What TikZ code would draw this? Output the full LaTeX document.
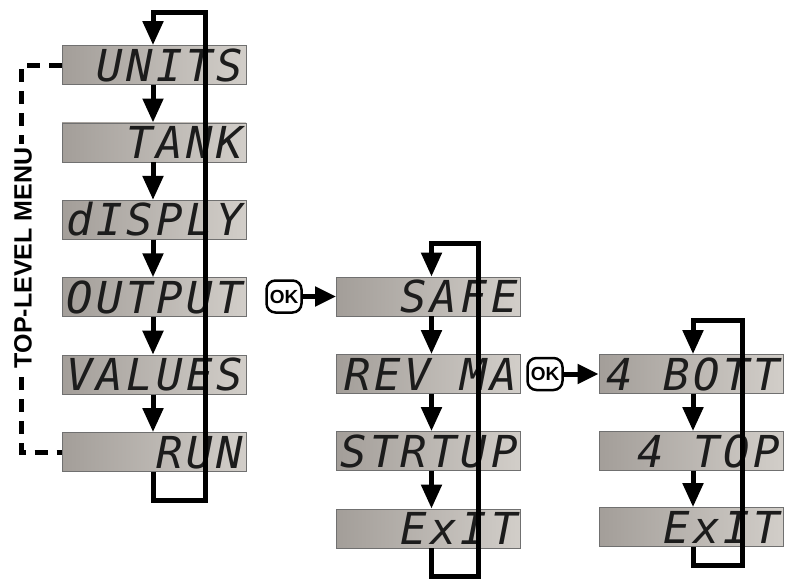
\documentclass[tikz,border=0pt]{standalone}
\usepackage{fontspec}
\setmainfont{Liberation Sans}
\newfontfamily\lcdfont[LetterSpace=8]{DejaVu Sans Mono}
\usetikzlibrary{arrows.meta,calc}
\definecolor{boxdark}{HTML}{A39E99}
\definecolor{boxlight}{HTML}{D2CEC9}
\definecolor{boxedge}{HTML}{707070}
\definecolor{lcdink}{HTML}{1C1C1C}
\newcommand\lcdgap{\hspace*{30pt}}
\begin{document}
\begin{tikzpicture}[x=1pt,y=-1pt,
  lcdbox/.style={draw=boxedge, line width=0.8pt, left color=boxdark, right color=boxlight,
    minimum width=184pt, text width=178pt, align=right, inner xsep=3pt, inner ysep=3.5pt,
    text height=32pt, text depth=0pt, text=lcdink,
    font=\lcdfont\itshape\fontsize{44}{44}\selectfont},
  flow/.style={line width=5pt, -{Triangle[length=24pt,width=20pt]}},
  okarrow/.style={line width=5pt, -{Triangle[length=21pt,width=19pt]}},
  menudash/.style={line width=5pt, dash pattern=on 13pt off 9pt},
  okbtn/.style={draw, line width=2.5pt, rounded corners=9pt, minimum width=35pt,
    minimum height=32pt, inner sep=0pt, fill=white,
    font=\bfseries\fontsize{19}{19}\selectfont}
]
\fill[white] (0,0) rectangle (792,579);
\useasboundingbox (0,0) rectangle (792,579);

% column 1
\node[lcdbox] (units) at (154,65) {UNITS};
\node[lcdbox] (tank) at (154,142.4) {TANK};
\node[lcdbox] (disply) at (154,219.8) {dISPLY};
\node[lcdbox] (output) at (154,297.2) {OUTPUT};
\node[lcdbox] (values) at (154,374.6) {VALUES};
\node[lcdbox] (run) at (154,452) {RUN};

% column 2
\node[lcdbox] (safe) at (428.5,296.5) {SAFE};
\node[lcdbox] (revma) at (428.5,374) {REV\lcdgap MA};
\node[lcdbox] (strtup) at (428.5,451) {STRTUP};
\node[lcdbox] (exitb) at (428.5,528.5) {ExIT};

% column 3
\node[lcdbox] (bott) at (691,374) {4\lcdgap BOTT};
\node[lcdbox] (topf) at (691,451) {4\lcdgap TOP};
\node[lcdbox] (exitc) at (691,527) {ExIT};

% OK buttons
\node[okbtn] (ok1) at (284,296.5) {OK};
\node[okbtn] (ok2) at (545,374) {OK};

% loop coordinates
\coordinate (l1b) at (205,500);
\coordinate (l1t) at (205,12);
\coordinate (l2b) at (478,576);
\coordinate (l2t) at (478,243);
\coordinate (l3b) at (742,565);
\coordinate (l3t) at (742,320);

% loops
\draw[flow] ([xshift=-1pt]run.south) |- (l1b) -- (l1t) -| ([xshift=-1pt]units.north);
\draw[flow] ([xshift=3pt]exitb.south) |- (l2b) -- (l2t) -| ([xshift=3pt]safe.north);
\draw[flow] ([xshift=2pt]exitc.south) |- (l3b) -- (l3t) -| ([xshift=2pt]bott.north);

% step arrows
\draw[flow] ([xshift=-1pt]units.south) -- ([xshift=-1pt]tank.north);
\draw[flow] ([xshift=-1pt]tank.south) -- ([xshift=-1pt]disply.north);
\draw[flow] ([xshift=-1pt]disply.south) -- ([xshift=-1pt]output.north);
\draw[flow] ([xshift=-1pt]output.south) -- ([xshift=-1pt]values.north);
\draw[flow] ([xshift=-1pt]values.south) -- ([xshift=-1pt]run.north);

\draw[flow] ([xshift=3pt]safe.south) -- ([xshift=3pt]revma.north);
\draw[flow] ([xshift=3pt]revma.south) -- ([xshift=3pt]strtup.north);
\draw[flow] ([xshift=3pt]strtup.south) -- ([xshift=3pt]exitb.north);

\draw[flow] ([xshift=2pt]bott.south) -- ([xshift=2pt]topf.north);
\draw[flow] ([xshift=2pt]topf.south) -- ([xshift=2pt]exitc.north);

% OK arrows
\draw[okarrow] (ok1.east) -- (safe.west);
\draw[okarrow] (ok2.east) -- (bott.west);

% top-level menu bracket
\draw[menudash] (units.west) -- ++(-40,0) |- (run.west);
\node[rotate=90, fill=white, inner sep=4pt, font=\bfseries\fontsize{25}{25}\selectfont] (menu) at (23,258) {TOP-LEVEL MENU};
\end{tikzpicture}
\end{document}
